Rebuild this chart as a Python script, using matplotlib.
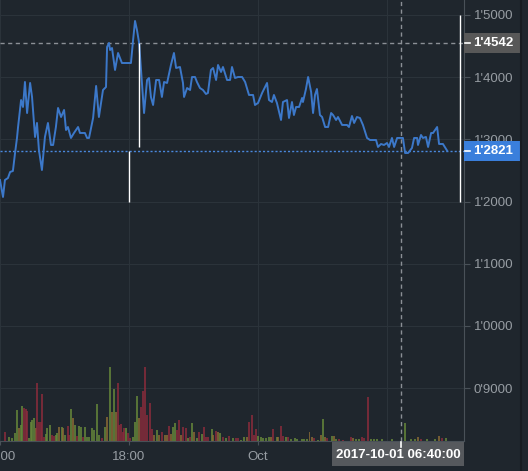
import matplotlib
matplotlib.use("Agg")
import matplotlib.pyplot as plt
from matplotlib.patches import Rectangle
from matplotlib.transforms import blended_transform_factory
from matplotlib.ticker import FuncFormatter

plt.rcParams['font.family'] = ['Liberation Sans', 'DejaVu Sans']

# time axis in hours after 2017-09-30 12:00
price_t = [0.00, 0.14, 0.23, 0.37, 0.47, 0.60, 0.70, 0.79, 0.84, 0.98, 1.07, 1.16, 1.26, 1.40,
           1.49, 1.63, 1.72, 1.81, 1.95, 2.09, 2.23, 2.37, 2.47, 2.60, 2.70, 2.84, 2.98, 3.07,
           3.16, 3.30, 3.44, 3.63, 3.72, 3.95, 4.05, 4.14, 4.33, 4.47, 4.60, 4.79, 4.93, 4.98,
           5.07, 5.12, 5.21, 5.35, 5.49, 5.67, 5.81, 6.09, 6.19, 6.28, 6.37, 6.47, 6.60, 6.70,
           6.84, 6.93, 7.02, 7.12, 7.26, 7.40, 7.53, 7.63, 7.77, 7.95, 8.09, 8.19, 8.37, 8.51,
           8.56, 8.70, 8.84, 8.93, 9.07, 9.16, 9.30, 9.44, 9.58, 9.67, 9.81, 9.91, 10.05, 10.14,
           10.28, 10.37, 10.56, 10.70, 10.79, 10.93, 11.07, 11.26, 11.40, 11.58, 11.77, 11.86,
           12.00, 12.19, 12.33, 12.42, 12.51, 12.65, 12.74, 12.88, 13.07, 13.16, 13.35, 13.44,
           13.58, 13.67, 13.77, 13.91, 14.05, 14.09, 14.23, 14.33, 14.47, 14.56, 14.65, 14.74,
           14.88, 14.98, 15.12, 15.26, 15.40, 15.49, 15.63, 15.72, 15.91, 16.14, 16.23, 16.37,
           16.47, 16.60, 16.74, 16.88, 17.07, 17.21, 17.35, 17.49, 17.58, 17.72, 17.86, 18.00,
           18.09, 18.23, 18.33, 18.47, 18.74, 18.84, 18.98, 19.16, 19.26, 19.40, 19.44, 19.58,
           19.67, 19.81, 19.91, 20.05, 20.14, 20.33, 20.42, 20.60, 20.79]
price_v = [1.2347, 1.2074, 1.2347, 1.2379, 1.2476, 1.2492, 1.2781, 1.3023, 1.3199, 1.3633,
           1.3521, 1.3923, 1.3424, 1.3907, 1.3682, 1.3039, 1.3264, 1.2830, 1.2508, 1.3039,
           1.3264, 1.2910, 1.2910, 1.3199, 1.3505, 1.3360, 1.3473, 1.3151, 1.3199, 1.3023,
           1.3103, 1.3199, 1.3103, 1.3103, 1.3023, 1.3023, 1.3344, 1.3859, 1.3360, 1.3794,
           1.3842, 1.4486, 1.4550, 1.4437, 1.4469, 1.4116, 1.4389, 1.4228, 1.4228, 1.4228,
           1.4598, 1.4904, 1.4759, 1.4550, 1.3907, 1.3424, 1.3955, 1.3987, 1.3682, 1.3553,
           1.3955, 1.3955, 1.3682, 1.3923, 1.3907, 1.4196, 1.4389, 1.4148, 1.4164, 1.3907,
           1.3682, 1.3826, 1.3794, 1.4003, 1.4003, 1.3923, 1.3826, 1.3794, 1.3730, 1.3746,
           1.4116, 1.4148, 1.3955, 1.4196, 1.4084, 1.4164, 1.3955, 1.3955, 1.4164, 1.3987,
           1.4003, 1.4003, 1.3923, 1.3714, 1.3714, 1.3553, 1.3585, 1.3746, 1.3842, 1.3907,
           1.3633, 1.3601, 1.3714, 1.3585, 1.3312, 1.3601, 1.3633, 1.3344, 1.3601, 1.3392,
           1.3521, 1.3521, 1.3666, 1.3601, 1.3810, 1.4003, 1.3762, 1.3424, 1.3714, 1.3810,
           1.3392, 1.3360, 1.3199, 1.3199, 1.3424, 1.3392, 1.3312, 1.3360, 1.3232, 1.3232,
           1.3199, 1.3376, 1.3264, 1.3360, 1.3344, 1.3232, 1.3023, 1.2990, 1.2990, 1.2990,
           1.2878, 1.2926, 1.2910, 1.2942, 1.2878, 1.3023, 1.2878, 1.3023, 1.3023, 1.2781,
           1.2781, 1.2862, 1.3023, 1.3023, 1.2910, 1.3071, 1.3023, 1.3039, 1.2878, 1.3103,
           1.3103, 1.3199, 1.2926, 1.2926, 1.2821]

vol_t = [0.22, 0.42, 0.56, 0.70, 0.79, 0.88, 0.98, 1.02, 1.12, 1.21,
         1.26, 1.35, 1.44, 1.49, 1.58, 1.67, 1.72, 1.81, 1.91, 1.95,
         2.05, 2.14, 2.19, 2.33, 2.42, 2.51, 2.60, 2.65, 2.74, 2.88,
         2.93, 3.02, 3.16, 3.21, 3.30, 3.40, 3.49, 3.58, 3.67, 3.77,
         3.86, 3.95, 4.05, 4.14, 4.28, 4.37, 4.51, 4.60, 4.74, 4.88,
         4.98, 5.12, 5.21, 5.30, 5.40, 5.49, 5.53, 5.63, 5.72, 5.77,
         5.86, 5.95, 6.05, 6.19, 6.28, 6.37, 6.47, 6.56, 6.65, 6.74,
         6.84, 6.98, 7.07, 7.16, 7.30, 7.40, 7.53, 7.67, 7.77, 7.86,
         7.95, 8.05, 8.14, 8.23, 8.33, 8.42, 8.51, 8.65, 8.74, 8.84,
         8.93, 9.02, 9.16, 9.26, 9.40, 9.49, 9.58, 9.67, 9.86, 9.91,
         10.05, 10.14, 10.23, 10.37, 10.51, 10.65, 10.84, 10.98, 11.07, 11.21,
         11.35, 11.49, 11.58, 11.72, 11.81, 11.91, 12.00, 12.14, 12.23, 12.37,
         12.51, 12.60, 12.70, 12.88, 12.93, 13.07, 13.16, 13.30, 13.40, 13.53,
         13.72, 13.81, 14.05, 14.14, 14.28, 14.40, 14.51, 14.60, 14.79, 14.93,
         15.02, 15.12, 15.21, 15.44, 15.53, 15.63, 15.77, 15.95, 16.33, 16.42,
         16.56, 16.70, 16.84, 16.93, 17.12, 17.26, 17.40, 17.53, 17.77, 18.23,
         18.84, 19.12, 19.30, 19.44, 19.58, 19.86, 20.23, 20.42, 20.56, 20.74]
vol_h = [9, 4, 3, 8, 31, 13, 16, 35, 33, 32,
         30, 3, 19, 21, 23, 13, 58, 19, 19, 47,
         4, 7, 13, 16, 6, 5, 6, 8, 14, 14,
         13, 6, 15, 6, 32, 23, 16, 5, 15, 14,
         4, 14, 4, 4, 13, 11, 37, 6, 3, 14,
         24, 74, 29, 52, 29, 58, 16, 17, 9, 13,
         13, 8, 3, 4, 19, 45, 23, 34, 50, 74,
         26, 38, 12, 6, 11, 6, 9, 6, 6, 15,
         7, 14, 18, 11, 21, 6, 14, 13, 3, 4,
         18, 9, 3, 9, 7, 14, 4, 4, 12, 6,
         10, 9, 8, 4, 3, 5, 3, 3, 3, 1,
         4, 4, 19, 26, 6, 12, 5, 4, 3, 3,
         4, 4, 12, 4, 4, 15, 5, 4, 4, 2,
         3, 2, 2, 2, 2, 9, 4, 3, 1, 6,
         22, 4, 3, 5, 5, 2, 2, 1, 4, 3,
         2, 2, 4, 3, 44, 2, 2, 2, 2, 2,
         18, 2, 2, 4, 2, 2, 2, 5, 3, 3]
# g = up volume, r = down volume, o = mixed
vol_c = ("rggggoggrr" "rggggorrrr" "rgggrrggog" "ogrrgogrgg" "rgggggggrg"
         "ogogorrrrr" "grrgggorrr" "rrrogoroor" "oggrrorrgr" "gogrgrrrgo"
         "rogrgrgrrg" "gorrrrgggg" "gorgorrgrg" "gggggoorgo" "gorgogrrro"
         "ggrrrggggg" "gggorggorg")

x_ticks = [0, 6, 12, 18]
# the 06:00 label sits under the crosshair date box, so it is left blank
x_labels = ["12:00", "18:00", "Oct", ""]
y_ticks = [0.9, 1.0, 1.1, 1.2, 1.3, 1.4, 1.5]

last_price = 1.2821
cross_price = 1.4542
cross_t = 18 + 40 / 60.
cross_label = "2017-10-01 06:40:00"

# white range markers: time, low, high
mark_t = [6.0, 6.47, 21.4]
mark_lo = [1.2, 1.288, 1.2]
mark_hi = [1.2821, 1.4542, 1.5]

BG = '#1f262d'
GRID = '#2b333a'
AXIS = '#495158'
TXT = '#979da3'
BLUE = '#3c78c9'
VCOL = {'g': '#66873a', 'r': '#8a2c3b', 'o': '#8a6a35'}

W, H = 528., 471.
fig = plt.figure(figsize=(W / 100, H / 100), dpi=100, facecolor=BG)
rect = [0, 30 / H, 464 / W, 441 / H]
ax = fig.add_axes(rect, facecolor=BG)
ax.set_xlim(0, 21.58)
ax.set_ylim(0.8151, 1.5241)

# axes styling
for s in ['top', 'left']:
    ax.spines[s].set_visible(False)
for s in ['right', 'bottom']:
    ax.spines[s].set_color(AXIS)
ax.set_axisbelow(True)
ax.grid(True, color=GRID, lw=0.8)
ax.yaxis.tick_right()
ax.set_yticks(y_ticks)
ax.yaxis.set_major_formatter(FuncFormatter(lambda v, p: ("%.4f" % v).replace('.', "'")))
ax.set_xticks(x_ticks)
ax.set_xticklabels(x_labels)
ax.tick_params(axis='y', colors=AXIS, labelcolor=TXT, length=4, pad=3, labelsize=9.5)
ax.tick_params(axis='x', colors=AXIS, labelcolor=TXT, length=3, pad=4.5, labelsize=9.5)

# price + guide lines
ax.plot(price_t, price_v, color=BLUE, lw=1.4, zorder=3)
ax.axhline(last_price, color='#4a88dd', lw=1, ls=(0, (1.5, 1.5)), zorder=2)
ax.axhline(cross_price, color='#8b9096', lw=1, ls=(0, (3, 2.5)), zorder=2)
ax.axvline(cross_t, color='#8b9096', lw=1, ls=(0, (3, 2.5)), zorder=2)
ax.vlines(mark_t, mark_lo, mark_hi, color='white', lw=1, zorder=4)

# volume on its own overlay axes
vax = fig.add_axes(rect, sharex=ax)
vax.patch.set_visible(False)
vax.axis('off')
vax.set_ylim(0, max(vol_h) * 5.96)
vax.bar(vol_t, vol_h, width=0.075, color=[VCOL[c] for c in vol_c], alpha=0.8, lw=0)

# price boxes on the right axis
tr = blended_transform_factory(ax.transAxes, ax.transData)
bh = 0.0322
for val, fc in [(cross_price, '#585858'), (last_price, '#3a7fdc')]:
    ax.add_patch(Rectangle((1.0, val - bh / 2), 56 / 464., bh, transform=tr,
                           facecolor=fc, edgecolor='none', clip_on=False, zorder=5))
    ax.plot([1.003, 1.013], [val, val], transform=tr, color='white', lw=1.2,
            clip_on=False, zorder=6)
    ax.text(1.0194, val, ("%.4f" % val).replace('.', "'"), transform=tr, ha='left',
            va='center', color='white', fontsize=9.5, fontweight='bold', zorder=6)

# date box under the crosshair
bw = 132 / 464.
ax.add_patch(Rectangle((1 - bw, -25 / 441.), bw, 24 / 441., transform=ax.transAxes,
                       facecolor='#56595d', edgecolor='none', clip_on=False, zorder=5))
trx = blended_transform_factory(ax.transData, ax.transAxes)
ax.plot([cross_t, cross_t], [-6 / 441., -1 / 441.], transform=trx, color='white', lw=1.2,
        clip_on=False, zorder=6)
ax.text(1 - bw / 2, -13.5 / 441., cross_label, transform=ax.transAxes, ha='center',
        va='center', color='white', fontsize=9.5, fontweight='bold', zorder=6)

# dark strip at the far right
fig.add_artist(plt.Line2D([521 / W, 521 / W], [0, 1], color='#171c21', lw=1.5))

fig.savefig('out.png', dpi=100, facecolor=BG)
